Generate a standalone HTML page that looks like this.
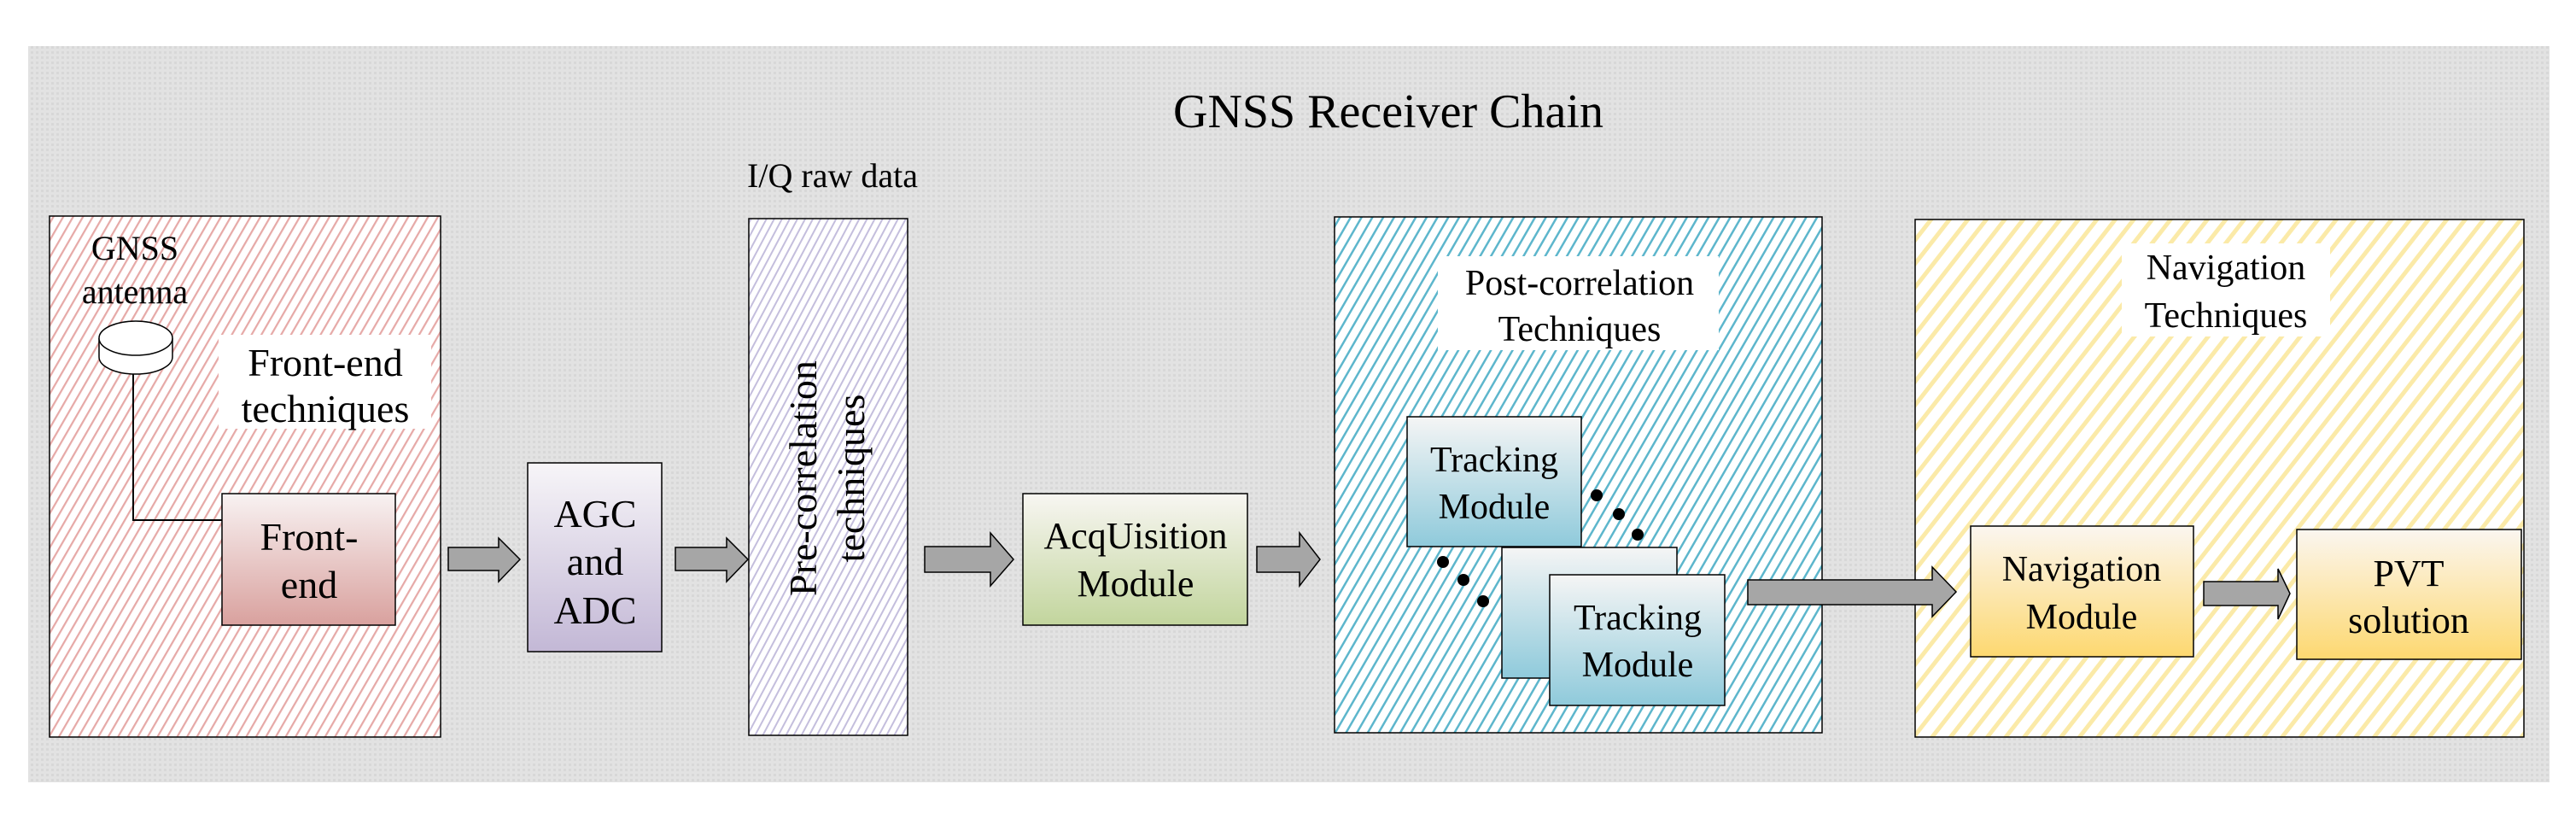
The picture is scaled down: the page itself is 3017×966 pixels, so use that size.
<!DOCTYPE html>
<html><head><meta charset="utf-8"><style>
html,body{margin:0;padding:0;background:#fff;}
svg{display:block;}
</style></head><body>
<svg width="3017" height="966" viewBox="0 0 3017 966" xmlns="http://www.w3.org/2000/svg" font-family="Liberation Serif, DejaVu Serif, serif">
<defs>
<pattern id="bg" width="6" height="6" patternUnits="userSpaceOnUse">
<rect width="6" height="6" fill="#e2e2e2"/><rect width="3" height="3" fill="#d8d8d8"/>
</pattern>
<pattern id="hr" width="10" height="10" patternUnits="userSpaceOnUse" patternTransform="rotate(30)">
<rect width="10" height="10" fill="#fff"/><rect width="2.2" height="10" fill="#e6a9a7"/></pattern>
<pattern id="hp" width="8" height="8" patternUnits="userSpaceOnUse" patternTransform="rotate(28)">
<rect width="8" height="8" fill="#fff"/><rect width="2" height="8" fill="#c4bedd"/></pattern>
<pattern id="hb" width="11" height="11" patternUnits="userSpaceOnUse" patternTransform="rotate(30)">
<rect width="11" height="11" fill="#fff"/><rect width="2.5" height="11" fill="#5db6cc"/></pattern>
<pattern id="hy" width="17" height="17" patternUnits="userSpaceOnUse" patternTransform="rotate(38)">
<rect width="17" height="17" fill="#fff"/><rect width="5" height="17" fill="#fbeaa8"/></pattern>
<linearGradient id="gr" x1="0" y1="0" x2="0" y2="1"><stop offset="0" stop-color="#f8f2f2"/><stop offset="1" stop-color="#d9a19e"/></linearGradient>
<linearGradient id="gp" x1="0" y1="0" x2="0" y2="1"><stop offset="0" stop-color="#f7f5f8"/><stop offset="1" stop-color="#c3b8d6"/></linearGradient>
<linearGradient id="gg" x1="0" y1="0" x2="0" y2="1"><stop offset="0" stop-color="#f8f6f2"/><stop offset="1" stop-color="#c2d59d"/></linearGradient>
<linearGradient id="gb" x1="0" y1="0" x2="0" y2="1"><stop offset="0" stop-color="#f5f5f5"/><stop offset="1" stop-color="#8fcadb"/></linearGradient>
<linearGradient id="gy" x1="0" y1="0" x2="0" y2="1"><stop offset="0" stop-color="#fbf6f0"/><stop offset="1" stop-color="#fdd870"/></linearGradient>
</defs>
<rect x="0" y="0" width="3017" height="966" fill="#fff"/>
<rect x="33" y="54" width="2953" height="862" fill="url(#bg)"/>
<g fill="#000" font-family="Liberation Serif, DejaVu Serif, serif">
<text x="1626" y="149" font-size="56" text-anchor="middle">GNSS Receiver Chain</text>

<!-- front-end panel -->
<rect x="58" y="253" width="458" height="610" fill="url(#hr)" stroke="#000" stroke-width="1.5"/>
<text x="158" y="304" font-size="40" text-anchor="middle">GNSS</text>
<text x="158" y="355" font-size="40" text-anchor="middle">antenna</text>
<path d="M116 396 V418 A43 20 0 0 0 202 418 V396" fill="#fff" stroke="#000" stroke-width="1.5"/>
<ellipse cx="159" cy="396" rx="43" ry="20" fill="#fff" stroke="#000" stroke-width="1.5"/>
<polyline points="156,438 156,609 260,609" fill="none" stroke="#000" stroke-width="2"/>
<rect x="256" y="392" width="249" height="110" fill="#fff"/>
<text x="381" y="440" font-size="46" text-anchor="middle">Front-end</text>
<text x="381" y="494" font-size="46" text-anchor="middle">techniques</text>
<rect x="260" y="578" width="203" height="154" fill="url(#gr)" stroke="#000" stroke-width="1.5"/>
<text x="362" y="644" font-size="46" text-anchor="middle">Front-</text>
<text x="362" y="700" font-size="46" text-anchor="middle">end</text>

<rect x="618" y="542" width="157" height="221" fill="url(#gp)" stroke="#000" stroke-width="1.5"/>
<text x="697" y="617" font-size="46" text-anchor="middle">AGC</text>
<text x="697" y="673" font-size="46" text-anchor="middle">and</text>
<text x="697" y="730" font-size="46" text-anchor="middle">ADC</text>

<text x="975" y="219" font-size="40" text-anchor="middle">I/Q raw data</text>
<rect x="877" y="256" width="186" height="605" fill="url(#hp)" stroke="#000" stroke-width="1.5"/>
<text transform="translate(956,560) rotate(-90)" font-size="46" text-anchor="middle">Pre-correlation</text>
<text transform="translate(1012,560) rotate(-90)" font-size="46" text-anchor="middle">techniques</text>

<rect x="1198" y="578" width="263" height="154" fill="url(#gg)" stroke="#000" stroke-width="1.5"/>
<text x="1330" y="642" font-size="44" text-anchor="middle">AcqUisition</text>
<text x="1330" y="698" font-size="44" text-anchor="middle">Module</text>

<!-- post-correlation -->
<rect x="1563" y="254" width="571" height="604" fill="url(#hb)" stroke="#000" stroke-width="1.5"/>
<rect x="1684" y="300" width="329" height="110" fill="#fff"/>
<text x="1850" y="345" font-size="42" text-anchor="middle">Post-correlation</text>
<text x="1850" y="399" font-size="42" text-anchor="middle">Techniques</text>
<rect x="1648" y="488" width="204" height="152" fill="url(#gb)" stroke="#000" stroke-width="1.5"/>
<text x="1750" y="552" font-size="42" text-anchor="middle">Tracking</text>
<text x="1750" y="607" font-size="42" text-anchor="middle">Module</text>
<rect x="1759" y="641" width="205" height="153" fill="url(#gb)" stroke="#000" stroke-width="1.5"/>
<rect x="1815" y="673" width="205" height="153" fill="url(#gb)" stroke="#000" stroke-width="1.5"/>
<text x="1918" y="737" font-size="42" text-anchor="middle">Tracking</text>
<text x="1918" y="792" font-size="42" text-anchor="middle">Module</text>
<circle cx="1870" cy="580" r="7"/><circle cx="1896" cy="602" r="7"/><circle cx="1918" cy="626" r="7"/>
<circle cx="1690" cy="658" r="7"/><circle cx="1714" cy="679" r="7"/><circle cx="1737" cy="704" r="7"/>

<!-- navigation -->
<rect x="2243" y="257" width="713" height="606" fill="url(#hy)" stroke="#000" stroke-width="1.5"/>
<rect x="2485" y="285" width="244" height="109" fill="#fff"/>
<text x="2607" y="327" font-size="42" text-anchor="middle">Navigation</text>
<text x="2607" y="383" font-size="42" text-anchor="middle">Techniques</text>
<rect x="2308" y="616" width="261" height="153" fill="url(#gy)" stroke="#000" stroke-width="1.5"/>
<text x="2438" y="680" font-size="42" text-anchor="middle">Navigation</text>
<text x="2438" y="736" font-size="42" text-anchor="middle">Module</text>
<rect x="2690" y="620" width="263" height="152" fill="url(#gy)" stroke="#000" stroke-width="1.5"/>
<text x="2821" y="686" font-size="44" text-anchor="middle">PVT</text>
<text x="2821" y="741" font-size="44" text-anchor="middle">solution</text>
</g>

<!-- arrows (drawn on top) -->
<g fill="#a6a6a6" stroke="#000" stroke-width="1.5">
<path d="M525 641 H584 V630 L609 655 L584 681 V668 H525 Z"/>
<path d="M791 641 H851 V630 L876 655 L851 681 V668 H791 Z"/>
<path d="M1083 640 H1160 V624 L1187 655 L1160 686 V670 H1083 Z"/>
<path d="M1472 640 H1522 V624 L1546 655 L1522 686 V670 H1472 Z"/>
<path d="M2047 679 H2263 V664 L2291 693 L2263 722 V708 H2047 Z"/>
<path d="M2581 681 H2668 V666 L2682 695 L2668 725 V709 H2581 Z"/>
</g>
</svg>
</body></html>
